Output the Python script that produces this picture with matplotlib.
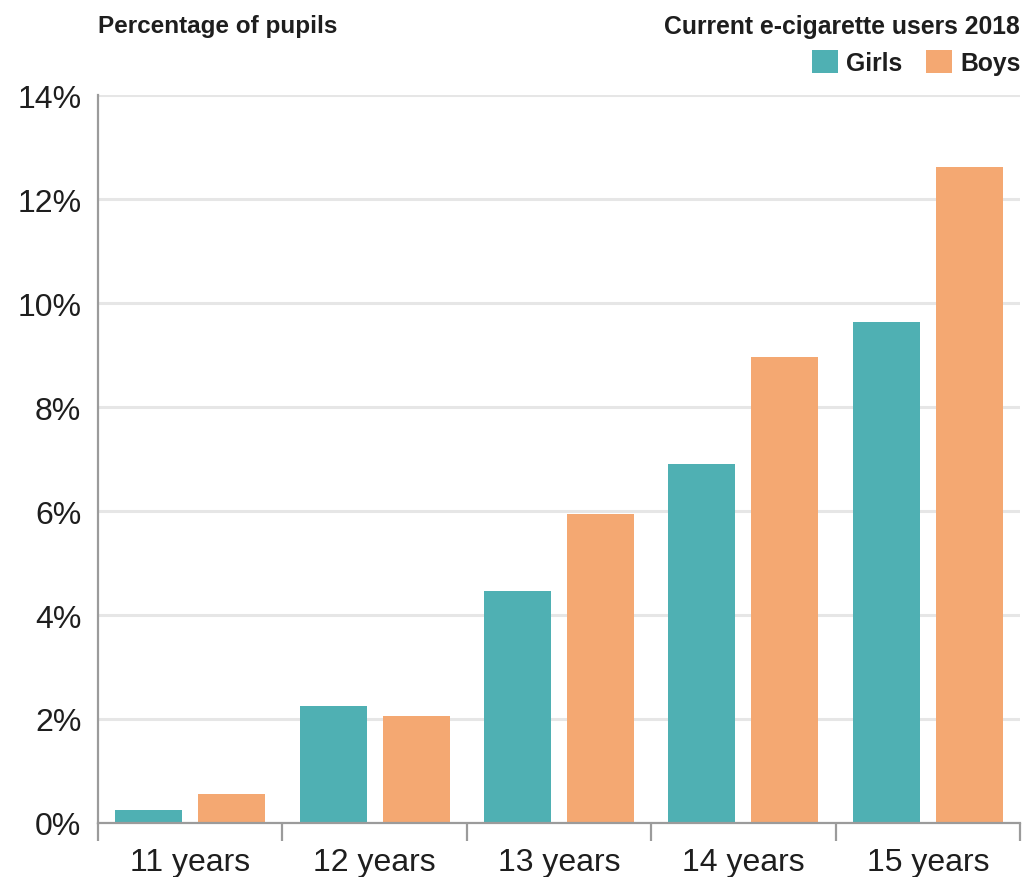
import numpy as np
import matplotlib
matplotlib.use("Agg")
import matplotlib.pyplot as plt

# data
ages = ["11 years", "12 years", "13 years", "14 years", "15 years"]
girls = [0.25, 2.25, 4.46, 6.90, 9.63]
boys = [0.56, 2.06, 5.94, 8.96, 12.62]
yticks = [0, 2, 4, 6, 8, 10, 12, 14]

teal = "#4fb0b3"
orange = "#f4a872"
txt = "#1e1e1e"
axis_grey = "#9b9b9b"

plt.rcParams["font.family"] = ["Liberation Sans", "DejaVu Sans"]

fig = plt.figure(figsize=(10.24, 8.78), dpi=100)
ax = fig.add_axes([98 / 1024, (878 - 824) / 878, (1020 - 98) / 1024, (824 - 96) / 878])

x = np.arange(len(ages))
w = 0.363
ax.bar(x - 0.225, girls, w, color=teal, label="Girls", zorder=3)
ax.bar(x + 0.225, boys, w, color=orange, label="Boys", zorder=3)

ax.set_xlim(-0.5, len(ages) - 0.5)
ax.set_ylim(0, 14)
ax.set_yticks(yticks)
ax.set_yticklabels([f"{v}%" for v in yticks])
ax.yaxis.grid(True, color="#e6e6e6", linewidth=2.2, zorder=0)
ax.set_axisbelow(True)

ax.set_xticks(x)
ax.set_xticklabels(ages)
ax.set_xticks(np.arange(len(ages) + 1) - 0.5, minor=True)
ax.tick_params(axis="x", which="major", length=0, pad=17, labelsize=23, labelcolor=txt)
ax.tick_params(axis="x", which="minor", length=13, width=1.6, color=axis_grey)
ax.tick_params(axis="y", length=0, pad=12, labelsize=23, labelcolor=txt)

for s in ["top", "right"]:
    ax.spines[s].set_visible(False)
for s in ["left", "bottom"]:
    ax.spines[s].set_color(axis_grey)
    ax.spines[s].set_linewidth(1.6)
    ax.spines[s].set_zorder(4)

fig.text(98 / 1024, 1 - 27 / 878, "Percentage of pupils", ha="left", va="center",
         fontsize=17.5, fontweight="bold", color=txt)
fig.text(1020 / 1024, 1 - 27 / 878, "Current e-cigarette users 2018", ha="right", va="center",
         fontsize=17.8, fontweight="bold", color=txt)

leg = ax.legend(loc="upper right", bbox_to_anchor=(1021 / 1024, 1 - 51 / 878),
                bbox_transform=fig.transFigure, ncol=2, frameon=False,
                fontsize=17.8, handlelength=1.05, handleheight=1.05, handletextpad=0.35,
                columnspacing=0.95, borderaxespad=0, borderpad=0)
for t in leg.get_texts():
    t.set_fontweight("bold")
    t.set_color(txt)

fig.savefig("out.png", dpi=100)
